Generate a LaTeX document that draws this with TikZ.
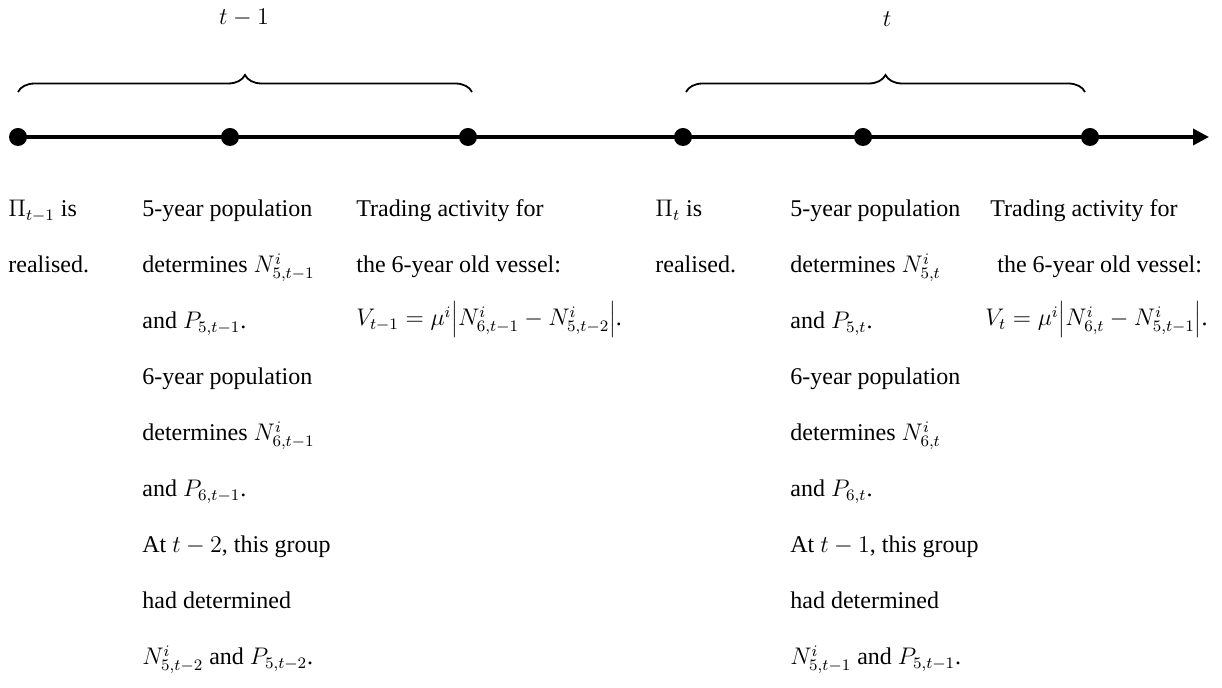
\documentclass[tikz,border=0pt]{standalone}
\usepackage{fontspec}
\setmainfont{Liberation Serif}
\usetikzlibrary{arrows.meta,decorations.pathreplacing}
\tikzset{
  txt/.style={anchor=base west, inner sep=0pt, font=\fontsize{12}{14}\selectfont},
  lbl/.style={anchor=center, inner sep=0pt, font=\fontsize{12.5}{14}\selectfont},
  dot/.style={circle, fill=black, inner sep=0pt, minimum size=9pt},
  axis/.style={line width=1.75pt, -{Triangle[length=8pt,width=8pt]}},
  brace/.style={decorate, decoration={brace, amplitude=8.5pt}, line width=0.9pt}
}
\begin{document}
\begin{tikzpicture}[x=0.5pt,y=-0.5pt]
\useasboundingbox (0,0) rectangle (1222,688);
% timeline
\coordinate (tip) at (1209,137);
\node[dot] (d1) at (18,137) {};
\node[dot] (d2) at (230,137) {};
\node[dot] (d3) at (468,137) {};
\node[dot] (d4) at (683,137) {};
\node[dot] (d5) at (863,137) {};
\node[dot] (d6) at (1090,137) {};
\draw[axis] (d1.center) -- (tip);
% braces
\coordinate (b1s) at (18,92);
\coordinate (b1e) at (472,92);
\coordinate (b2s) at (686,92);
\coordinate (b2e) at (1085,92);
\draw[brace] (b1s) -- (b1e);
\draw[brace] (b2s) -- (b2e);
\node[lbl] (l1) at (244,18) {$t-1$};
\node[lbl] (l2) at (887,19) {$t$};
% column 1
\node[txt] (a1) at (8,217) {$\Pi_{t-1}$ is};
\node[txt] (a2) at (8,273) {realised.};
% column 2
\node[txt] (b1) at (142,217) {5-year population};
\node[txt] (b2) at (142,273) {determines $N^i_{5,t-1}$};
\node[txt] (b3) at (142,329) {and $P_{5,t-1}$.};
\node[txt] (b4) at (142,385) {6-year population};
\node[txt] (b5) at (142,441) {determines $N^i_{6,t-1}$};
\node[txt] (b6) at (142,497) {and $P_{6,t-1}$.};
\node[txt] (b7) at (142,553) {At $t-2$, this group};
\node[txt] (b8) at (142,609) {had determined};
\node[txt] (b9) at (142,665) {$N^i_{5,t-2}$ and $P_{5,t-2}$.};
% column 3
\node[txt] (c1) at (356,217) {Trading activity for};
\node[txt] (c2) at (356,273) {the 6-year old vessel:};
\node[txt] (c3) at (356,326) {$V_{t-1}=\mu^i\Bigl|N^i_{6,t-1}-N^i_{5,t-2}\Bigr|$.};
% column 4
\node[txt] (e1) at (655,217) {$\Pi_{t}$ is};
\node[txt] (e2) at (655,273) {realised.};
% column 5
\node[txt] (f1) at (790,217) {5-year population};
\node[txt] (f2) at (790,273) {determines $N^i_{5,t}$};
\node[txt] (f3) at (790,329) {and $P_{5,t}$.};
\node[txt] (f4) at (790,385) {6-year population};
\node[txt] (f5) at (790,441) {determines $N^i_{6,t}$};
\node[txt] (f6) at (790,497) {and $P_{6,t}$.};
\node[txt] (f7) at (790,553) {At $t-1$, this group};
\node[txt] (f8) at (790,609) {had determined};
\node[txt] (f9) at (790,665) {$N^i_{5,t-1}$ and $P_{5,t-1}$.};
% column 6
\node[txt] (g1) at (990,217) {Trading activity for};
\node[txt] (g2) at (997,273) {the 6-year old vessel:};
\node[txt] (g3) at (985,326) {$V_{t}=\mu^i\Bigl|N^i_{6,t}-N^i_{5,t-1}\Bigr|$.};
\end{tikzpicture}
\end{document}
